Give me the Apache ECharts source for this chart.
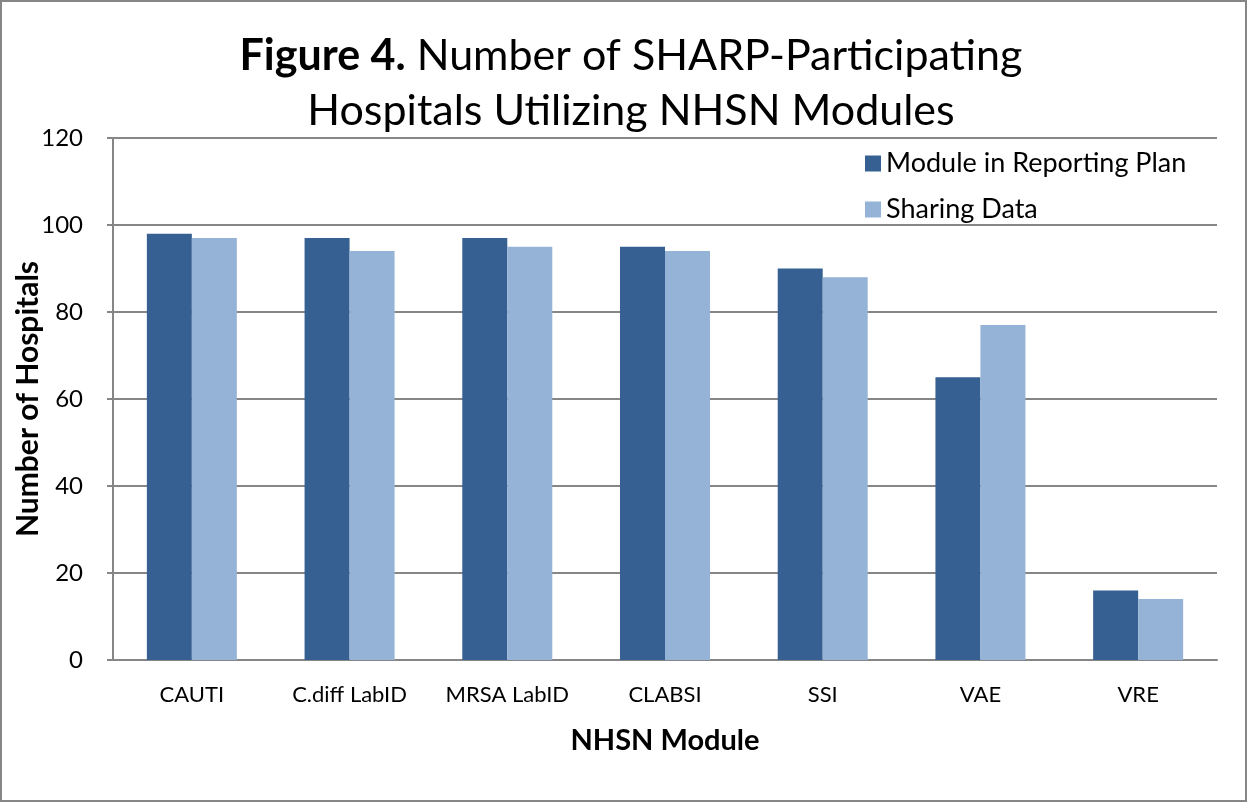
<!DOCTYPE html>
<html>
<head>
<meta charset="utf-8">
<script src="https://cdn.jsdelivr.net/npm/echarts@6/dist/echarts.min.js"></script>
<style>
  html, body { margin: 0; padding: 0; background: #fff; }
  #main { width: 1249px; height: 803px; }
</style>
</head>
<body>
<div id="main"></div>
<script>
var modules = ['CAUTI', 'C.diff LabID', 'MRSA LabID', 'CLABSI', 'SSI', 'VAE', 'VRE'];
var reportingPlan = [98, 97, 97, 95, 90, 65, 16];
var sharingData = [97, 94, 95, 94, 88, 77, 14];
var yTicks = [0, 20, 40, 60, 80, 100, 120];

var FONT = 'Lato';

var myChart = echarts.init(document.getElementById('main'));

var option = {
    backgroundColor: '#fff',
    animation: false,
    graphic: [{
        type: 'rect',
        shape: {x: 1, y: 1, width: 1245, height: 800},
        style: {fill: 'none', stroke: '#868686', lineWidth: 2}
    }],
    title: {
        text: '{b|Figure 4.} Number of SHARP-Participating\nHospitals Utilizing NHSN Modules',
        left: 626,
        top: 24,
        textAlign: 'center',
        textStyle: {
            fontFamily: FONT,
            fontSize: 43,
            fontWeight: 'normal',
            color: '#000',
            lineHeight: 55,
            rich: {
                b: {fontFamily: FONT, fontSize: 43, fontWeight: 'bold', color: '#000', lineHeight: 55}
            }
        }
    },
    legend: {
        orient: 'vertical',
        left: 860,
        top: 145,
        itemWidth: 16,
        itemHeight: 16,
        itemGap: 19,
        icon: 'rect',
        textStyle: {fontFamily: FONT, fontSize: 27, color: '#000'},
        data: ['Module in Reporting Plan', 'Sharing Data']
    },
    grid: {left: 113, right: 32, top: 138, bottom: 143, containLabel: false, outerBoundsMode: 'none'},
    xAxis: {
        type: 'category',
        data: modules,
        name: 'NHSN Module',
        nameLocation: 'middle',
        nameGap: 66,
        nameMoveOverlap: false,
        nameTextStyle: {fontFamily: FONT, fontSize: 29, fontWeight: 'bold', color: '#000'},
        axisLine: {lineStyle: {color: '#868686', width: 2}},
        axisTick: {show: false},
        axisLabel: {fontFamily: FONT, fontSize: 22, color: '#000', margin: 24, interval: 0, hideOverlap: false}
    },
    yAxis: {
        type: 'value',
        min: 0,
        max: 120,
        interval: 20,
        name: 'Number of Hospitals',
        nameLocation: 'middle',
        nameRotate: 90,
        nameGap: 70,
        nameMoveOverlap: false,
        nameTextStyle: {fontFamily: FONT, fontSize: 30, fontWeight: 'bold', color: '#000'},
        axisLine: {show: true, lineStyle: {color: '#868686', width: 2}},
        axisTick: {show: true, length: 6, lineStyle: {color: '#868686', width: 2}},
        axisLabel: {
            fontFamily: FONT, fontSize: 24, color: '#000', margin: 30,
            formatter: function (v) { return yTicks.indexOf(v) >= 0 ? String(v) : ''; }
        },
        splitLine: {lineStyle: {color: '#868686', width: 2}}
    },
    series: [{
        name: 'Module in Reporting Plan',
        type: 'bar',
        data: reportingPlan,
        barWidth: 45,
        barGap: '0%',
        itemStyle: {color: '#376092'}
    }, {
        name: 'Sharing Data',
        type: 'bar',
        data: sharingData,
        barWidth: 45,
        barGap: '0%',
        itemStyle: {color: '#95B3D7'}
    }]
};

myChart.setOption(option);
</script>
</body>
</html>
